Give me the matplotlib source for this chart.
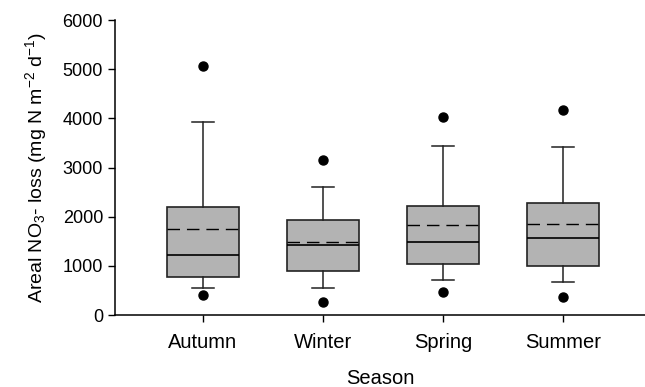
import matplotlib
matplotlib.use('Agg')
import matplotlib.pyplot as plt

plt.rcParams['font.family'] = ['Liberation Sans', 'DejaVu Sans']
plt.rcParams['mathtext.fontset'] = 'custom'
plt.rcParams['mathtext.rm'] = 'Liberation Sans'
plt.rcParams['mathtext.it'] = 'Liberation Sans:italic'

seasons = ['Autumn', 'Winter', 'Spring', 'Summer']
whisker_low = [545, 550, 705, 680]
q1 = [780, 900, 1030, 1005]
median = [1220, 1425, 1490, 1560]
mean = [1750, 1490, 1825, 1850]
q3 = [2205, 1925, 2225, 2270]
whisker_high = [3930, 2610, 3435, 3410]
outliers_low = [405, 265, 475, 375]
outliers_high = [5070, 3150, 4035, 4170]

stats = []
for i, name in enumerate(seasons):
    stats.append(dict(label=name, whislo=whisker_low[i], q1=q1[i], med=median[i],
                      mean=mean[i], q3=q3[i], whishi=whisker_high[i],
                      fliers=[outliers_low[i], outliers_high[i]]))

fig = plt.figure(figsize=(6.45, 3.87), dpi=100)
ax = fig.add_axes([0.178, 0.186, 0.822, 0.762])

ax.bxp(stats, positions=[1, 2, 3, 4], widths=0.6, capwidths=0.18,
       patch_artist=True, showmeans=True, meanline=True,
       boxprops=dict(facecolor='#b3b3b3', edgecolor='#222222', linewidth=1.2),
       medianprops=dict(color='black', linewidth=1.2),
       meanprops=dict(color='black', linestyle=(0, (9, 5)), linewidth=1.0),
       whiskerprops=dict(color='#222222', linewidth=1.1),
       capprops=dict(color='#222222', linewidth=1.1),
       flierprops=dict(marker='o', markerfacecolor='black', markeredgecolor='black',
                       markersize=6.5))

ax.set_xlim(0.267, 4.68)
ax.set_ylim(0, 6000)
ax.set_yticks([0, 1000, 2000, 3000, 4000, 5000, 6000])
ax.spines['top'].set_visible(False)
ax.spines['right'].set_visible(False)
ax.spines['left'].set_linewidth(1.1)
ax.spines['bottom'].set_linewidth(1.1)
ax.tick_params(axis='both', length=5, width=1.0, direction='out')
ax.tick_params(axis='y', labelsize=13)
ax.tick_params(axis='x', labelsize=14.5, pad=8)
ax.set_xlabel('Season', fontsize=14.5, labelpad=12)
ax.set_ylabel(r'Areal NO$_3$- loss (mg N m$^{-2}$ d$^{-1}$)', fontsize=14, labelpad=10)

fig.savefig('out.png', dpi=100)
